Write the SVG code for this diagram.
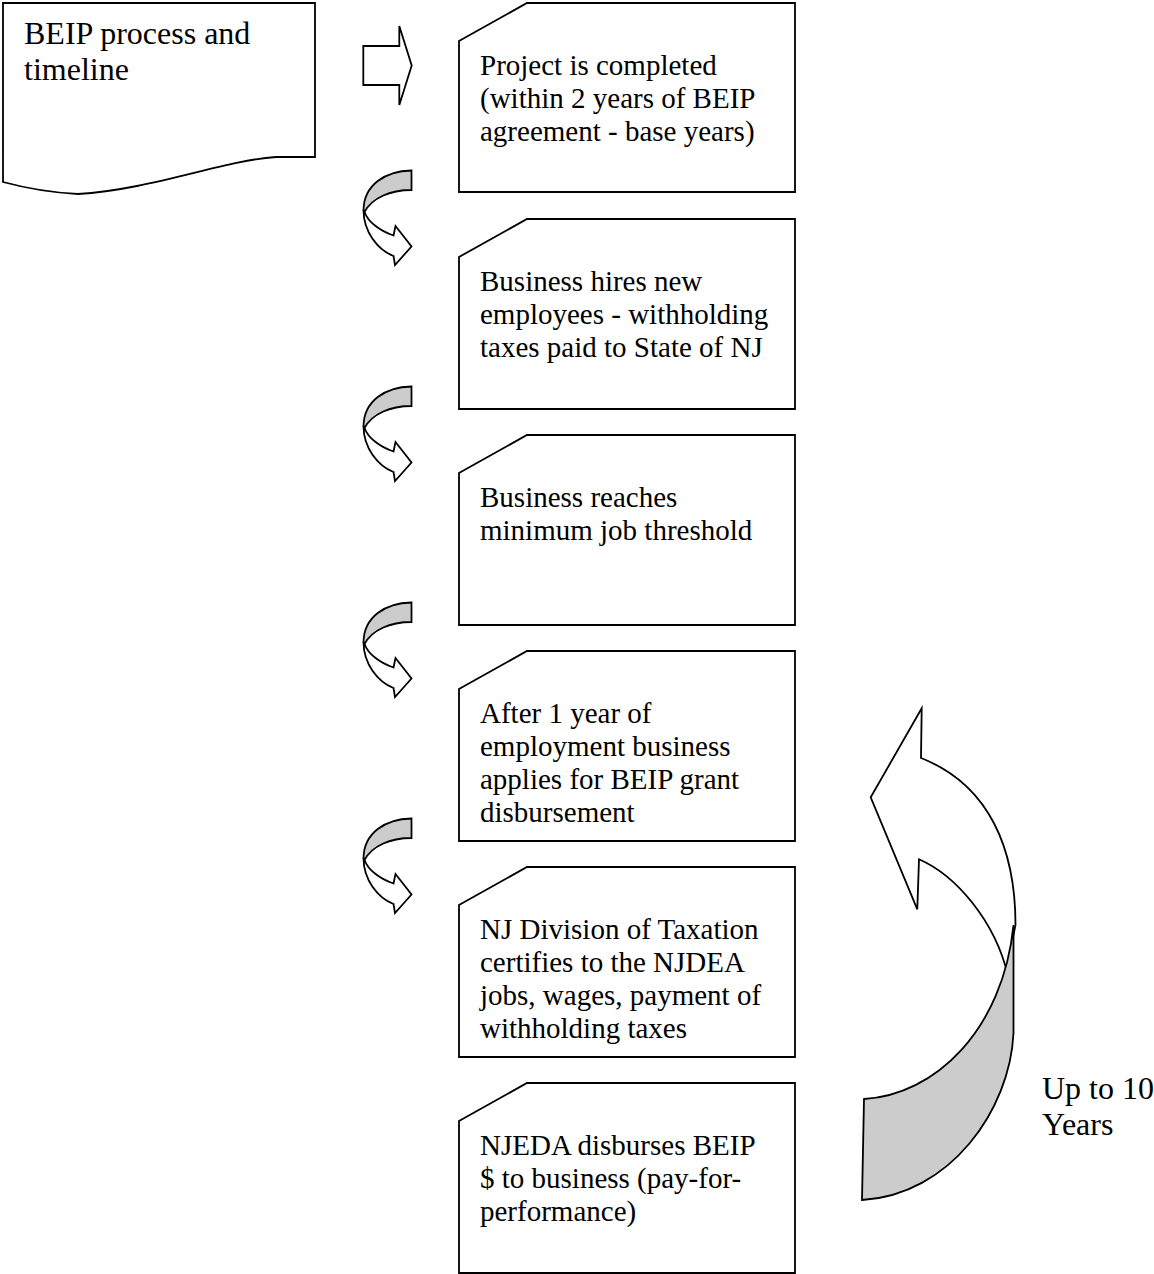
<svg xmlns="http://www.w3.org/2000/svg" xmlns:xlink="http://www.w3.org/1999/xlink" width="1154" height="1274" viewBox="0 0 1154 1274">
<style>
  .shape { fill: #ffffff; stroke: #000000; stroke-width: 1.8; stroke-linejoin: miter; }
  .gray { fill: #cccccc; stroke: #000000; stroke-width: 1.8; }
  .txt { font-family: "Liberation Serif", "Times New Roman", serif; font-size: 29px; fill: #000000; }
  .big { font-family: "Liberation Serif", "Times New Roman", serif; font-size: 32px; fill: #000000; }
</style>
<defs>
  <g id="curved">
    <path class="shape" d="M363.5,210 C363.5,232 378,250 393.5,256 L395,265 L411.5,246.5 L395.5,226 L393.5,235.5 C380,231 368,222 364.5,212 Z"/>
    <path class="gray" d="M411.5,170.5 C385,171 364,185 363.5,210 C364,211 364.5,212 364.5,212 C372,198 390,190 411.5,190 Z"/>
  </g>
</defs>

<rect width="1154" height="1274" fill="#ffffff"/>

<g id="title">
  <path class="shape" d="M3,3 H315 V157 H276 C225,160 150,190 78,194 Q40,192 3,182 Z"/>
  <text class="big" x="24" y="44">BEIP process and</text>
  <text class="big" x="24" y="80">timeline</text>
</g>

<g id="step1">
  <path class="shape" d="M527,3 H795 V192 H459 V41 Z"/>
  <text class="txt" x="480" y="74.5">Project is completed</text>
  <text class="txt" x="480" y="107.5">(within 2 years of BEIP</text>
  <text class="txt" x="480" y="140.5">agreement - base years)</text>
</g>

<g id="step2">
  <path class="shape" d="M527,219 H795 V409 H459 V257 Z"/>
  <text class="txt" x="480" y="290.5">Business hires new</text>
  <text class="txt" x="480" y="323.5">employees - withholding</text>
  <text class="txt" x="480" y="356.5">taxes paid to State of NJ</text>
</g>

<g id="step3">
  <path class="shape" d="M527,435 H795 V625 H459 V473 Z"/>
  <text class="txt" x="480" y="506.5">Business reaches</text>
  <text class="txt" x="480" y="539.5">minimum job threshold</text>
</g>

<g id="step4">
  <path class="shape" d="M527,651 H795 V841 H459 V689 Z"/>
  <text class="txt" x="480" y="722.5">After 1 year of</text>
  <text class="txt" x="480" y="755.5">employment business</text>
  <text class="txt" x="480" y="788.5">applies for BEIP grant</text>
  <text class="txt" x="480" y="821.5">disbursement</text>
</g>

<g id="step5">
  <path class="shape" d="M527,867 H795 V1057 H459 V905 Z"/>
  <text class="txt" x="480" y="938.5">NJ Division of Taxation</text>
  <text class="txt" x="480" y="971.5">certifies to the NJDEA</text>
  <text class="txt" x="480" y="1004.5">jobs, wages, payment of</text>
  <text class="txt" x="480" y="1037.5">withholding taxes</text>
</g>

<g id="step6">
  <path class="shape" d="M527,1083 H795 V1273 H459 V1121 Z"/>
  <text class="txt" x="480" y="1154.5">NJEDA disburses BEIP</text>
  <text class="txt" x="480" y="1187.5">$ to business (pay-for-</text>
  <text class="txt" x="480" y="1220.5">performance)</text>
</g>

<g id="loop-label">
  <text class="big" x="1042" y="1099">Up to 10</text>
  <text class="big" x="1042" y="1135">Years</text>
</g>

<g id="connectors">
  <path class="shape" d="M363.3,46 H399.3 V26 L411.7,65.5 L399.3,105 V85 H363.3 Z"/>
  <use xlink:href="#curved"/>
  <use xlink:href="#curved" transform="translate(0,216)"/>
  <use xlink:href="#curved" transform="translate(0,432)"/>
  <use xlink:href="#curved" transform="translate(0,648)"/>
  <g id="loop-arrow">
    <path class="shape" d="M1013.5,935 L1015.5,925 C1015.5,850 990,785 921,758 L921.7,708.3 L870.7,797.3 L917.3,909.3 L919,859.3 C955,875 995,920 1008,976 Z"/>
    <path class="gray" d="M1013.5,925 L1013.5,1033 C1010,1110 950,1195 862,1200 L864,1099 C935,1095 1003,1030 1013.5,925 Z"/>
  </g>
</g>
</svg>
